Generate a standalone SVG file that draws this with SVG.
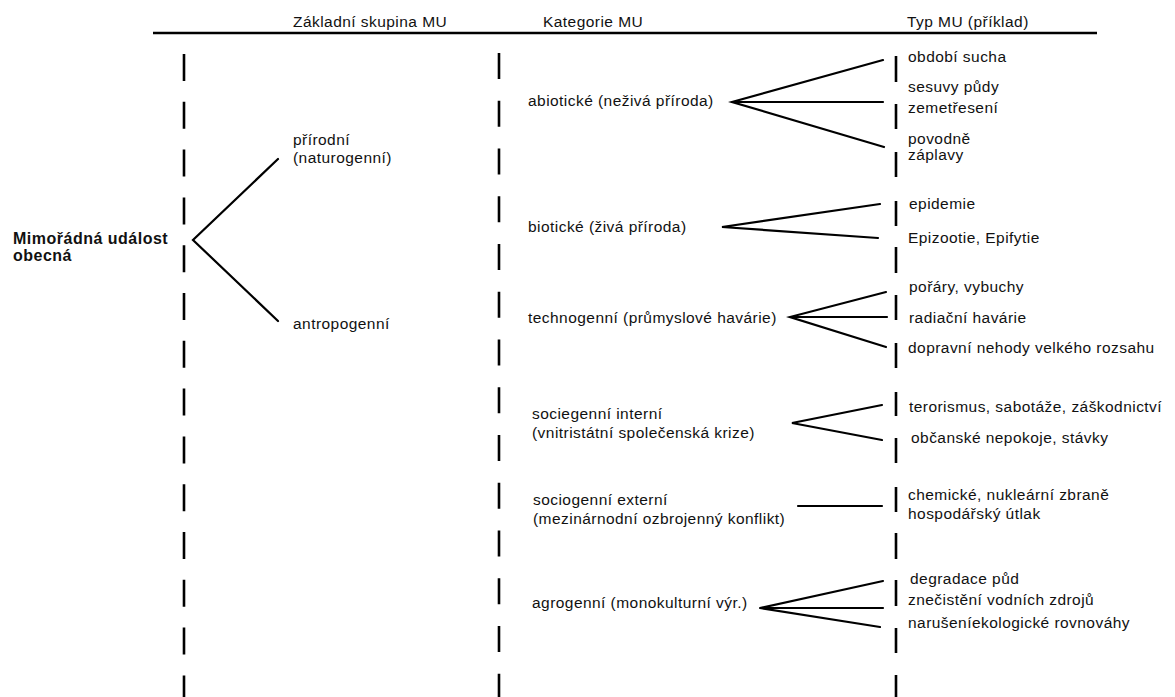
<svg xmlns="http://www.w3.org/2000/svg" width="1175" height="697" viewBox="0 0 1175 697">
  <style>
    text { font-family: "Liberation Sans", Arial, sans-serif; font-size: 15.5px; letter-spacing: 0.45px; fill: #111; }
    .root { font-weight: bold; font-size: 16px; letter-spacing: 0.5px; }
    .rule { stroke: #000; stroke-width: 2.5; fill: none; }
    .dash { stroke: #000; stroke-width: 2.6; fill: none; }
    .edge { stroke: #000; stroke-width: 2.2; fill: none; stroke-linecap: round; }
  </style>
  <rect width="1175" height="697" fill="#fff"/>

  <!-- column headers and top rule -->
  <g id="headers">
    <text x="293" y="27">Základní skupina MU</text>
    <text x="543" y="27">Kategorie MU</text>
    <text x="907" y="27">Typ MU (příklad)</text>
    <line class="rule" x1="153" y1="33" x2="1097" y2="33"/>
  </g>

  <!-- dashed column separators -->
  <g id="separators">
    <line class="dash" x1="184" y1="54" x2="184" y2="697" stroke-dasharray="27 20.8"/>
    <line class="dash" x1="499" y1="53" x2="499" y2="697" stroke-dasharray="26 21.75"/>
    <path class="dash" d="M896 56V82 M896 104V129 M896 152V177 M896 201V226 M896 247V273 M896 295V320 M896 343V368 M896 392V416 M896 438V463 M896 487V512 M896 533V559 M896 580V606 M896 628V653 M896 675V697"/>
  </g>

  <!-- root -->
  <g id="node-root">
    <text class="root" x="13" y="244">Mimořádná událost</text>
    <text class="root" x="13" y="261">obecná</text>
  </g>

  <!-- basic groups -->
  <g id="node-prirodni">
    <text x="293" y="145">přírodní</text>
    <text x="293" y="163">(naturogenní)</text>
  </g>
  <g id="node-antropogenni">
    <text x="293" y="329">antropogenní</text>
  </g>

  <!-- categories -->
  <g id="node-abioticke"><text x="528" y="106">abiotické (neživá příroda)</text></g>
  <g id="node-bioticke"><text x="528" y="232">biotické (živá příroda)</text></g>
  <g id="node-technogenni"><text x="528" y="323">technogenní (průmyslové havárie)</text></g>
  <g id="node-socio-interni">
    <text x="532" y="419">sociegenní interní</text>
    <text x="532" y="438">(vnitristátní společenská krize)</text>
  </g>
  <g id="node-socio-externi">
    <text x="533" y="505">sociogenní externí</text>
    <text x="533" y="524">(mezinárnodní ozbrojenný konflikt)</text>
  </g>
  <g id="node-agrogenni"><text x="532" y="608">agrogenní (monokulturní výr.)</text></g>

  <!-- example types -->
  <g id="node-typy-abioticke">
    <text x="908" y="62">období sucha</text>
    <text x="908" y="92">sesuvy půdy</text>
    <text x="908" y="113">zemetřesení</text>
    <text x="908" y="144">povodně</text>
    <text x="908" y="160">záplavy</text>
  </g>
  <g id="node-typy-bioticke">
    <text x="909" y="209">epidemie</text>
    <text x="908" y="243">Epizootie, Epifytie</text>
  </g>
  <g id="node-typy-technogenni">
    <text x="909" y="292">pořáry, vybuchy</text>
    <text x="909" y="323">radiační havárie</text>
    <text x="908" y="353">dopravní nehody velkého rozsahu</text>
  </g>
  <g id="node-typy-socio-interni">
    <text x="909" y="412">terorismus, sabotáže, záškodnictví</text>
    <text x="911" y="443">občanské nepokoje, stávky</text>
  </g>
  <g id="node-typy-socio-externi">
    <text x="908" y="500">chemické, nukleární zbraně</text>
    <text x="908" y="519">hospodářský útlak</text>
  </g>
  <g id="node-typy-agrogenni">
    <text x="910" y="584">degradace půd</text>
    <text x="908" y="605">znečistění vodních zdrojů</text>
    <text x="908" y="628">narušeníekologické rovnováhy</text>
  </g>

  <!-- branching connectors -->
  <g id="connectors">
    <path class="edge" d="M278 159L193 240L278 321"/>
    <path class="edge" d="M883 60L732 102L884 147 M732 102H883"/>
    <path class="edge" d="M880 204L722 227L878 238"/>
    <path class="edge" d="M886 292L790 317L886 347 M790 317H887"/>
    <path class="edge" d="M882 405L792 423L882 440"/>
    <path class="edge" d="M798 506H882"/>
    <path class="edge" d="M883 581L760 608L880 627 M760 608H883"/>
  </g>
</svg>
